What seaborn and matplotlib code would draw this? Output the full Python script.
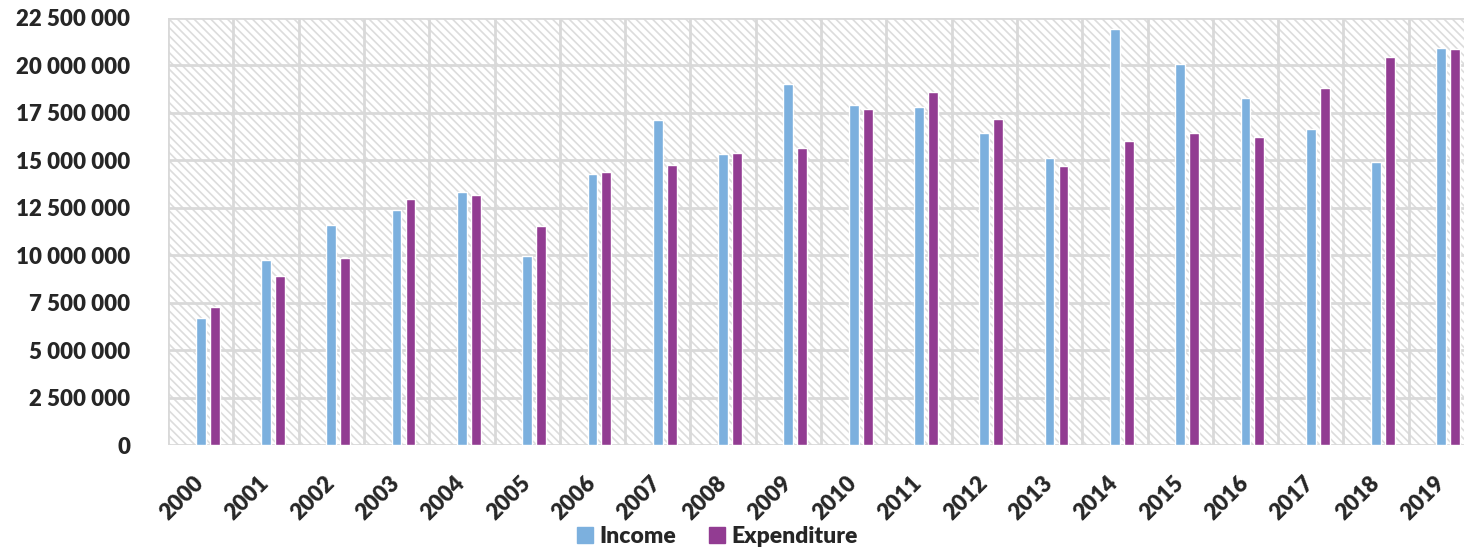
import numpy as np
import pandas as pd
import matplotlib
matplotlib.use("Agg")
import matplotlib.pyplot as plt
import matplotlib.patches as mpatches
from matplotlib.ticker import FuncFormatter
import seaborn as sns

# -----------------------------
# Data
# -----------------------------

years = [str(y) for y in range(2000, 2020)]

income = [6670000, 9760000, 11590000, 12400000, 13310000, 9940000, 14260000,
          17120000, 15340000, 19020000, 17910000, 17830000, 16460000, 15140000,
          21900000, 20090000, 18270000, 16650000, 14930000, 20900000]

expenditure = [7270000, 8890000, 9840000, 12970000, 13170000, 11530000, 14370000,
               14740000, 15380000, 15670000, 17680000, 18590000, 17200000, 14700000,
               16040000, 16440000, 16240000, 18830000, 20430000, 20870000]

series_names = ['Income', 'Expenditure']
series_colors = ['#7CB0DE', '#923C92']
y_ticks = np.arange(0, 22500001, 2500000)

# Excel left an empty first slot in each group, keep it as a blank hue level
blank = ' '
df = pd.concat([
    pd.DataFrame({'year': years, 'series': blank, 'value': np.nan}),
    pd.DataFrame({'year': years, 'series': 'Income', 'value': income}),
    pd.DataFrame({'year': years, 'series': 'Expenditure', 'value': expenditure}),
], ignore_index=True)

# -----------------------------
# Plot
# -----------------------------

sns.set_style('white')
plt.rcParams['font.family'] = ['Lato', 'DejaVu Sans']
plt.rcParams['hatch.color'] = '#DCDCDC'
plt.rcParams['hatch.linewidth'] = 1.2

fig = plt.figure(figsize=(14.64, 5.48), dpi=100)
ax = fig.add_axes([168 / 1464, 103 / 548, 1306 / 1464, 427 / 548])

# hatched background
ax.add_patch(mpatches.Rectangle((0, 0), 1, 1, transform=ax.transAxes,
                                facecolor='white', edgecolor='#DCDCDC',
                                hatch='\\\\\\\\', linewidth=0, zorder=0))

palette = {blank: 'white', 'Income': series_colors[0], 'Expenditure': series_colors[1]}
sns.barplot(data=df, x='year', y='value', hue='series',
            hue_order=[blank] + series_names, palette=palette,
            width=0.64, gap=0.29, errorbar=None, legend=False,
            saturation=1, ax=ax, zorder=3)

ax.set_ylim(0, 22500000)
ax.set_xlim(-0.5, len(years) - 0.5)
ax.set_yticks(y_ticks)
ax.yaxis.set_major_formatter(FuncFormatter(lambda v, p: f'{int(v):,}'.replace(',', ' ')))

# grid lines at category boundaries and y ticks
for xb in np.arange(-0.5, len(years), 1.0):
    ax.axvline(xb, color='#D9D9D9', linewidth=2, zorder=1)
for yv in y_ticks:
    ax.axhline(yv, color='#D9D9D9', linewidth=2, zorder=1)

for s in ax.spines.values():
    s.set_visible(False)

ax.set_xlabel('')
ax.set_ylabel('')
ax.tick_params(axis='y', length=0, pad=27, labelsize=16)
ax.tick_params(axis='x', length=0, pad=25, labelsize=16)
for lbl in ax.get_yticklabels():
    lbl.set_fontweight('heavy')
for lbl in ax.get_xticklabels():
    lbl.set_fontweight('heavy')
    lbl.set_rotation(45)
    lbl.set_ha('right')
    lbl.set_va('center')
    lbl.set_rotation_mode('anchor')

handles = [mpatches.Patch(color=c, label=n) for n, c in zip(series_names, series_colors)]
leg = fig.legend(handles=handles, loc='lower center', bbox_to_anchor=(0.49, -0.035),
                 ncol=2, frameon=False, prop={'size': 16.5, 'weight': 'heavy'},
                 handlelength=0.7, handleheight=0.7, handletextpad=0.3,
                 columnspacing=1.4)

fig.savefig('out.png', dpi=100)
